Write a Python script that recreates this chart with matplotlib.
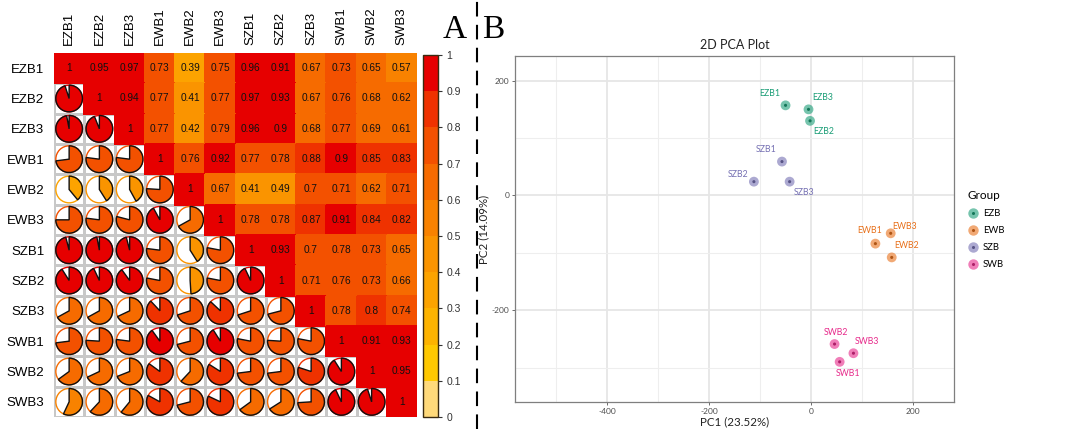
import numpy as np
import matplotlib
matplotlib.use('Agg')
import matplotlib.pyplot as plt
from matplotlib.colors import ListedColormap, BoundaryNorm, to_rgb
from matplotlib.patches import Wedge, Circle
from matplotlib.lines import Line2D

plt.rcParams['axes.unicode_minus'] = False

# ---------------- data ----------------
samples = ['EZB1', 'EZB2', 'EZB3', 'EWB1', 'EWB2', 'EWB3',
           'SZB1', 'SZB2', 'SZB3', 'SWB1', 'SWB2', 'SWB3']

# upper triangle (including diagonal), row by row
corr_upper = [
    [1, 0.95, 0.97, 0.73, 0.39, 0.75, 0.96, 0.91, 0.67, 0.73, 0.65, 0.57],
    [1, 0.94, 0.77, 0.41, 0.77, 0.97, 0.93, 0.67, 0.76, 0.68, 0.62],
    [1, 0.77, 0.42, 0.79, 0.96, 0.9, 0.68, 0.77, 0.69, 0.61],
    [1, 0.76, 0.92, 0.77, 0.78, 0.88, 0.9, 0.85, 0.83],
    [1, 0.67, 0.41, 0.49, 0.7, 0.71, 0.62, 0.71],
    [1, 0.78, 0.78, 0.87, 0.91, 0.84, 0.82],
    [1, 0.93, 0.7, 0.78, 0.73, 0.65],
    [1, 0.71, 0.76, 0.73, 0.66],
    [1, 0.78, 0.8, 0.74],
    [1, 0.91, 0.93],
    [1, 0.95],
    [1],
]

cbar_ticks = [0, 0.1, 0.2, 0.3, 0.4, 0.5, 0.6, 0.7, 0.8, 0.9, 1]

pca_groups = ['EZB', 'EWB', 'SZB', 'SWB']
pca_group_of = ['EZB', 'EZB', 'EZB', 'EWB', 'EWB', 'EWB',
                'SZB', 'SZB', 'SZB', 'SWB', 'SWB', 'SWB']
pc1 = [-50, -2, -5, 126, 158, 156, -57, -112, -42, 56, 46, 83]
pc2 = [157, 130, 150, -84, -108, -66, 59, 24, 24, -290, -259, -275]
pc1_label = 'PC1 (23.52%)'
pc2_label = 'PC2 (14.09%)'

# ---------------- styles ----------------
bin_colors = ['#FFD97A', '#FFC800', '#FDB300', '#FCA300', '#FA9400',
              '#F88200', '#F66B00', '#F35100', '#EF3200', '#E60000']
group_colors = {'EZB': '#1B9E77', 'EWB': '#E8701A', 'SZB': '#7570B3', 'SWB': '#E7298A'}
label_offsets = {  # pixel offsets of sample labels
    'EZB1': (-16, 12), 'EZB3': (14, 12), 'EZB2': (14, -11),
    'SZB1': (-16, 12), 'SZB2': (-16, 7), 'SZB3': (14, -11),
    'EWB1': (-6, 13), 'EWB3': (14, 7), 'EWB2': (15, 12),
    'SWB2': (1, 12), 'SWB3': (14, 12), 'SWB1': (8, -12),
}

W, H = 1067, 429
fig = plt.figure(figsize=(W / 100, H / 100), dpi=100)
fig.patch.set_facecolor('white')

def frac(l, t, r, b):
    return [l / W, 1 - b / H, (r - l) / W, (b - t) / H]

def darker(c, f=0.75):
    return tuple(x * f for x in to_rgb(c))

sans = ['Liberation Sans', 'DejaVu Sans']
narrow = ['Lato', 'DejaVu Sans']
serif = ['Liberation Serif', 'DejaVu Serif']

# ---------------- correlation matrix ----------------
n = len(samples)
corr = np.zeros((n, n))
for i, row in enumerate(corr_upper):
    for k, v in enumerate(row):
        corr[i, i + k] = v
        corr[i + k, i] = v

bounds = np.round(np.array(cbar_ticks, dtype=float), 2)
cmap = ListedColormap(bin_colors)
norm = BoundaryNorm(bounds, cmap.N)

ax = fig.add_axes(frac(54, 53, 417, 417))
ii, jj = np.indices((n, n))
lower = np.ma.masked_where(jj >= ii, np.ones((n, n)))
ax.pcolormesh(np.arange(n + 1), np.arange(n + 1), lower,
              cmap=ListedColormap(['white']), edgecolors='#C8C8C8', linewidth=1.0, zorder=0.5)
upper = np.ma.masked_where(jj < ii, corr)
mesh = ax.pcolormesh(np.arange(n + 1), np.arange(n + 1), upper, cmap=cmap, norm=norm,
                     edgecolors='face', linewidth=0.3, zorder=1)
ax.set_xlim(0, n)
ax.set_ylim(n, 0)

for i in range(n):
    for j in range(n):
        v = corr[i, j]
        col = cmap(norm(v))
        if j >= i:
            ax.text(j + 0.5, i + 0.5, '{:g}'.format(v), ha='center', va='center',
                    fontsize=7.3, color='#111111', family=sans, zorder=3)
        else:
            cx, cy = j + 0.5, i + 0.5
            r = 0.44
            ax.add_patch(Circle((cx, cy), r, facecolor='white', edgecolor=col,
                                lw=1.0, zorder=2))
            ax.add_patch(Wedge((cx, cy), r, -90, -90 + 360 * v, facecolor=col,
                               edgecolor='#111111', lw=1.0, zorder=3))

ax.set_xticks(np.arange(n) + 0.5)
ax.set_yticks(np.arange(n) + 0.5)
ax.set_xticklabels(samples, rotation=90, fontsize=9.5, family=sans)
ax.set_yticklabels(samples, fontsize=9.5, family=sans)
ax.xaxis.tick_top()
ax.tick_params(length=0, pad=6)
ax.tick_params(axis='y', pad=7)
for s in ax.spines.values():
    s.set_visible(False)

# colorbar
cax = fig.add_axes(frac(423, 55, 438, 417))
cb = fig.colorbar(mesh, cax=cax, ticks=cbar_ticks)
cb.ax.set_yticklabels(['{:g}'.format(t) for t in cbar_ticks], fontsize=7.5, family=sans,
                      color='#333333')
cb.outline.set_edgecolor('#3A2A10')
cb.outline.set_linewidth(1.0)
cb.ax.tick_params(length=3, width=0.8, color='#333333', pad=3)

fig.text(455 / W, 1 - 30 / H, 'A', fontsize=24, family=serif, ha='center', va='center')
fig.text(493 / W, 1 - 30 / H, 'B', fontsize=24, family=serif, ha='center', va='center')
fig.add_artist(Line2D([477 / W, 477 / W], [0, 1], color='black', lw=1.5,
                      ls=(0, (7, 4)), transform=fig.transFigure))

# ---------------- PCA ----------------
pax = fig.add_axes(frac(515, 56, 954, 402))
pax.set_xlim(-580, 280)
pax.set_ylim(-360, 243)
pax.set_xticks([-400, -200, 0, 200])
pax.set_yticks([-200, 0, 200])
pax.set_xticks([-500, -300, -100, 100], minor=True)
pax.set_yticks([-300, -100, 100], minor=True)
pax.grid(True, which='major', color='#E6E6E6', lw=1.3)
pax.grid(True, which='minor', color='#EEEEEE', lw=0.8)
pax.set_axisbelow(True)
pax.tick_params(which='major', length=2.5, width=0.6, color='#555555', labelsize=6,
                labelcolor='#4D4D4D', pad=1.5)
pax.tick_params(which='minor', length=0)
for s in pax.spines.values():
    s.set_edgecolor('#7F7F7F')
    s.set_linewidth(0.9)
for lab in pax.get_xticklabels() + pax.get_yticklabels():
    lab.set_family(narrow)

for name, g, x, y in zip(samples, pca_group_of, pc1, pc2):
    c = group_colors[g]
    pax.scatter([x], [y], s=50, color=c, alpha=0.6, edgecolors='none', zorder=3)
    pax.scatter([x], [y], s=5, color=darker(c), edgecolors='none', zorder=4)
    pax.annotate(name, (x, y), xytext=label_offsets[name], textcoords='offset pixels',
                 ha='center', va='center', fontsize=6.3, color=c, family=narrow)

pax.set_title('2D PCA Plot', fontsize=9, family=narrow, pad=5, color='#222222')
pax.set_xlabel(pc1_label, fontsize=8.3, family=narrow, labelpad=1, color='#222222')
pax.set_ylabel(pc2_label, fontsize=8.3, family=narrow, labelpad=2, color='#222222')

handles = []
for g in pca_groups:
    c = group_colors[g]
    handles.append((Line2D([], [], marker='o', ls='', ms=7.5, color=c, alpha=0.6, mec='none'),
                    Line2D([], [], marker='o', ls='', ms=2.2, color=darker(c), mec='none')))
leg = fig.legend(handles, pca_groups, title='Group', loc='upper left',
                 bbox_to_anchor=(964 / W, 1 - 186 / H), frameon=False,
                 prop={'family': narrow, 'size': 6.8}, labelspacing=0.85,
                 handlelength=1.0, handletextpad=0.6, borderaxespad=0)
leg.get_title().set_family(narrow)
leg.get_title().set_fontsize(8.5)
leg._legend_box.align = 'left'

fig.savefig('out.png', dpi=100, facecolor='white')
